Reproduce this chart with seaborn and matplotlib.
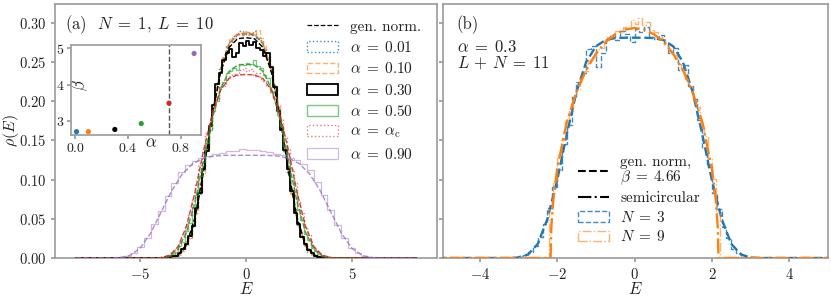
import numpy as np
import pandas as pd
import matplotlib
matplotlib.use("Agg")
import matplotlib.pyplot as plt
import seaborn as sns
from matplotlib.lines import Line2D
from matplotlib.patches import Patch

# ------------------------------------------------------------------ data
# panel (a): N = 1, L = 10 ; histograms of the spectrum for several alpha
series_a_labels = [r"$\alpha\;=\;0.01$", r"$\alpha\;=\;0.10$", r"$\alpha\;=\;0.30$",
                   r"$\alpha\;=\;0.50$", r"$\alpha\;=\;\alpha_{\rm c}$", r"$\alpha\;=\;0.90$"]

# narrow histograms: bins of width 0.16 starting at E = -4
narrow_bin_lo = -4.0
narrow_bin_w = 0.16
hist_a001 = [0.000, 0.000, 0.001, 0.001, 0.003, 0.005, 0.010, 0.016, 0.027, 0.040, 0.062, 0.082,
             0.112, 0.139, 0.165, 0.197, 0.218, 0.242, 0.255, 0.270, 0.276, 0.283, 0.287, 0.289,
             0.284,
             0.288, 0.285, 0.290, 0.281, 0.278, 0.266, 0.258, 0.239, 0.221, 0.193, 0.169, 0.136,
             0.109, 0.085, 0.059, 0.042, 0.025, 0.017, 0.008, 0.005, 0.002, 0.001, 0.000, 0.000,
             0.000]
hist_a010 = [0.000, 0.000, 0.000, 0.001, 0.002, 0.004, 0.009, 0.017, 0.025, 0.043, 0.058, 0.086,
             0.108, 0.141, 0.168, 0.193, 0.221, 0.238, 0.257, 0.267, 0.279, 0.281, 0.286, 0.284,
             0.289,
             0.285, 0.288, 0.284, 0.291, 0.280, 0.270, 0.254, 0.243, 0.217, 0.196, 0.166, 0.140,
             0.111, 0.082, 0.062, 0.040, 0.028, 0.015, 0.010, 0.004, 0.002, 0.001, 0.001, 0.000,
             0.000]
hist_a030 = [0.000, 0.001, 0.001, 0.002, 0.003, 0.006, 0.011, 0.018, 0.028, 0.041, 0.064, 0.083,
             0.113, 0.136, 0.169, 0.195, 0.222, 0.236, 0.252, 0.262, 0.266, 0.257, 0.262, 0.274,
             0.271,
             0.277, 0.272, 0.276, 0.268, 0.265, 0.258, 0.262, 0.244, 0.218, 0.188, 0.163, 0.138,
             0.114, 0.086, 0.058, 0.043, 0.027, 0.018, 0.010, 0.006, 0.003, 0.001, 0.001, 0.000,
             0.000]
hist_a050 = [0.001, 0.001, 0.003, 0.005, 0.008, 0.015, 0.021, 0.034, 0.045, 0.065, 0.080, 0.104,
             0.122, 0.147, 0.163, 0.188, 0.200, 0.218, 0.225, 0.236, 0.238, 0.242, 0.240, 0.248,
             0.246,
             0.249, 0.247, 0.253, 0.245, 0.242, 0.233, 0.229, 0.213, 0.204, 0.183, 0.169, 0.143,
             0.126, 0.100, 0.084, 0.061, 0.048, 0.031, 0.023, 0.013, 0.009, 0.005, 0.002, 0.001,
             0.001]
hist_ac = [0.001, 0.002, 0.004, 0.006, 0.012, 0.019, 0.027, 0.043, 0.055, 0.076, 0.094, 0.118,
           0.135, 0.159, 0.172, 0.193, 0.201, 0.217, 0.220, 0.229, 0.232, 0.235, 0.233, 0.240,
           0.243,
           0.238, 0.241, 0.232, 0.236, 0.228, 0.226, 0.219, 0.211, 0.206, 0.188, 0.177, 0.155,
           0.139, 0.114, 0.096, 0.073, 0.058, 0.039, 0.029, 0.017, 0.012, 0.006, 0.004, 0.002,
           0.001]
# wide histogram (alpha = 0.9): bins of width 0.32 starting at E = -6.72
wide_bin_lo = -6.72
wide_bin_w = 0.32
hist_a090 = [0.000, 0.000, 0.001, 0.003, 0.007, 0.014, 0.025, 0.043, 0.060, 0.079, 0.096, 0.110,
             0.119, 0.124, 0.128, 0.130, 0.133, 0.134, 0.136, 0.137, 0.139, 0.138, 0.138, 0.136,
             0.135, 0.133, 0.131, 0.127, 0.125, 0.120, 0.112, 0.097, 0.080, 0.061, 0.042, 0.026,
             0.013, 0.006, 0.002, 0.001, 0.000, 0.000]

# generalized-normal fits
fit_E_a = [-8.0, -4.4, -4.0, -3.6, -3.2, -2.8, -2.4, -2.0, -1.6, -1.2, -0.8, -0.4, 0.0,
           0.4, 0.8, 1.2, 1.6, 2.0, 2.4, 2.8, 3.2, 3.6, 4.0, 4.4, 8.0]
fit_a001 = [0, 0, 0.0, 0.0004, 0.0032, 0.0159, 0.0503, 0.1105, 0.1813, 0.2398, 0.2731, 0.2847, 0.286,
            0.2847, 0.2731, 0.2398, 0.1813, 0.1105, 0.0503, 0.0159, 0.0032, 0.0004, 0.0, 0, 0]
fit_a010 = [0, 0, 0.0, 0.0004, 0.0032, 0.0160, 0.0505, 0.1109, 0.1820, 0.2407, 0.2741, 0.2857, 0.287,
            0.2857, 0.2741, 0.2407, 0.1820, 0.1109, 0.0505, 0.0160, 0.0032, 0.0004, 0.0, 0, 0]
fit_a030 = [0, 0, 0.0001, 0.0006, 0.0040, 0.0175, 0.0522, 0.1112, 0.1800, 0.2365, 0.2685, 0.2797, 0.281,
            0.2797, 0.2685, 0.2365, 0.1800, 0.1112, 0.0522, 0.0175, 0.0040, 0.0006, 0.0001, 0, 0]
fit_a050 = [0, 0.0001, 0.0005, 0.0027, 0.0113, 0.033, 0.0723, 0.124, 0.1765, 0.216, 0.238, 0.246, 0.247,
            0.246, 0.238, 0.216, 0.1765, 0.124, 0.0723, 0.033, 0.0113, 0.0027, 0.0005, 0.0001, 0]
fit_ac = [0, 0.0001, 0.0005, 0.0035, 0.0145, 0.041, 0.0846, 0.137, 0.183, 0.214, 0.229, 0.2336, 0.234,
          0.2336, 0.229, 0.214, 0.183, 0.137, 0.0846, 0.041, 0.0145, 0.0035, 0.0005, 0.0001, 0]
fit_E_a090 = [-8.0, -6.5, -6.0, -5.5, -5.0, -4.5, -4.0, -3.5, -3.0, -2.5, -2.0, -1.5, -1.0, -0.5, 0.0,
              0.5, 1.0, 1.5, 2.0, 2.5, 3.0, 3.5, 4.0, 4.5, 5.0, 5.5, 6.0, 6.5, 8.0]
fit_a090 = [0, 0.0, 0.0004, 0.0030, 0.0121, 0.0314, 0.0585, 0.0858, 0.1072, 0.1206, 0.1274, 0.1301,
            0.1309, 0.131, 0.131, 0.131, 0.1309, 0.1301, 0.1274, 0.1206, 0.1072, 0.0858, 0.0585,
            0.0314, 0.0121, 0.0030, 0.0004, 0.0, 0]

# inset: fitted beta versus alpha
inset_alpha = [0.01, 0.10, 0.30, 0.50, 0.71, 0.90]
inset_beta = [2.72, 2.72, 2.78, 2.94, 3.50, 4.86]
alpha_c = 0.71

# panel (b): alpha = 0.3, L + N = 11
series_b_labels = ["gen. norm,\n" + r"$\beta\;=\;4.66$", "semicircular", r"$N\;=\;3$", r"$N\;=\;9$"]
n3_bin_lo = -3.0
n3_bin_w = 0.125
hist_n3 = [0.002, 0.004, 0.008, 0.015, 0.027, 0.043, 0.064, 0.090, 0.112, 0.146, 0.170, 0.205,
           0.225, 0.236, 0.266, 0.270, 0.244, 0.262, 0.281, 0.284, 0.278, 0.290, 0.286, 0.276,
           0.292, 0.288, 0.295, 0.282, 0.279, 0.284, 0.276, 0.262, 0.268, 0.240, 0.246, 0.219,
           0.203, 0.176, 0.140, 0.116, 0.083, 0.062, 0.039, 0.025, 0.012, 0.007, 0.003, 0.001]
n9_bin_lo = -2.2
n9_bin_w = 0.1
hist_n9 = [0.062, 0.098, 0.131, 0.150, 0.176, 0.188, 0.208, 0.216, 0.233, 0.238, 0.252, 0.255,
           0.266, 0.268, 0.278, 0.282, 0.281, 0.290, 0.287, 0.295, 0.292, 0.303,
           0.299, 0.306, 0.297, 0.301, 0.291, 0.288, 0.283, 0.279, 0.272, 0.262, 0.259, 0.247,
           0.241, 0.228, 0.220, 0.203, 0.192, 0.171, 0.156, 0.126, 0.101, 0.058]
gn_E_b = [-8.0, -3.25, -3.0, -2.75, -2.5, -2.25, -2.0, -1.75, -1.5, -1.25, -1.0, -0.75, -0.5, -0.25, 0.0,
          0.25, 0.5, 0.75, 1.0, 1.25, 1.5, 1.75, 2.0, 2.25, 2.5, 2.75, 3.0, 3.25, 8.0]
gn_rho_b = [0, 0, 0.0006, 0.0045, 0.018, 0.050, 0.099, 0.158, 0.212, 0.250, 0.270, 0.278, 0.2805, 0.281,
            0.281, 0.281, 0.2805, 0.278, 0.270, 0.250, 0.212, 0.158, 0.099, 0.050, 0.018, 0.0045,
            0.0006, 0, 0]
sc_E_b = [-8.0, -2.17, -2.15, -2.1, -2.0, -1.75, -1.5, -1.25, -1.0, -0.75, -0.5, -0.25, 0.0,
          0.25, 0.5, 0.75, 1.0, 1.25, 1.5, 1.75, 2.0, 2.1, 2.15, 2.17, 8.0]
sc_rho_b = [0, 0, 0.0397, 0.0739, 0.1138, 0.1735, 0.2120, 0.2398, 0.2604, 0.2753, 0.2855, 0.2914, 0.2934,
            0.2914, 0.2855, 0.2753, 0.2604, 0.2398, 0.2120, 0.1735, 0.1138, 0.0739, 0.0397, 0, 0]

# ------------------------------------------------------------------ style
sns.set_theme(style="ticks")
GREY = "#9a9a9a"
TXT = "#222222"
plt.rcParams.update({
    "font.family": "serif",
    "font.serif": ["cmr10", "DejaVu Serif"],
    "mathtext.fontset": "cm",
    "axes.formatter.use_mathtext": True,
    "axes.unicode_minus": True,
    "axes.edgecolor": GREY,
    "axes.linewidth": 1.2,
    "xtick.color": GREY,
    "ytick.color": GREY,
    "xtick.labelcolor": TXT,
    "ytick.labelcolor": TXT,
    "text.color": TXT,
    "axes.labelcolor": TXT,
    "xtick.major.size": 3,
    "ytick.major.size": 3,
})

fig = plt.figure(figsize=(8.31, 2.97), dpi=100)
W, H = 831.0, 297.0
ax1 = fig.add_axes([55 / W, 39 / H, 382 / W, 254 / H])
ax2 = fig.add_axes([443 / W, 39 / H, 385 / W, 254 / H])


def draw_hist(ax, heights, lo, width, color, ls, lw, alpha, z):
    n = len(heights)
    df = pd.DataFrame({"E": [lo + width * (k + 0.5) for k in range(n)],
                       "rho": list(heights)})
    nb = int(round(16.0 / width))
    edges = [float(-8.0 + width * k) for k in range(nb + 1)]
    sns.histplot(data=df, x="E", weights="rho", bins=edges, element="step", fill=False,
                 stat="count", color=color, linestyle=ls, linewidth=lw, alpha=alpha,
                 ax=ax, zorder=z)


def draw_curve(ax, xs, ys, color, ls, lw, alpha, z):
    df = pd.DataFrame({"E": xs, "rho": ys})
    sns.lineplot(data=df, x="E", y="rho", color=color, linestyle=ls, linewidth=lw,
                 alpha=alpha, ax=ax, zorder=z)


# ---------------- panel (a)
styles_a = [
    (hist_a001, narrow_bin_lo, narrow_bin_w, fit_E_a, fit_a001, "tab:blue", ":", 1.0, 0.85),
    (hist_a010, narrow_bin_lo, narrow_bin_w, fit_E_a, fit_a010, "tab:orange", "--", 1.0, 0.6),
    (hist_a030, narrow_bin_lo, narrow_bin_w, fit_E_a, fit_a030, "black", "-", 1.3, 1.0),
    (hist_a050, narrow_bin_lo, narrow_bin_w, fit_E_a, fit_a050, "tab:green", "-", 1.0, 0.6),
    (hist_ac, narrow_bin_lo, narrow_bin_w, fit_E_a, fit_ac, "tab:red", ":", 1.0, 0.6),
    (hist_a090, wide_bin_lo, wide_bin_w, fit_E_a090, fit_a090, "tab:purple", "-", 0.9, 0.45),
]
handles_a = [Line2D([], [], color="black", linestyle="--", linewidth=0.9)]
for i, (h, lo, w, fx, fy, c, ls, lw, al) in enumerate(styles_a):
    draw_hist(ax1, h, lo, w, c, ls, lw, al, 2 + i)
    draw_curve(ax1, fx, fy, c, "--", 1.0, min(1.0, al + 0.3), 2 + i)
    handles_a.append(Patch(facecolor="none", edgecolor=c, linestyle=ls, linewidth=lw, alpha=al))

ax1.set_xlim(-9, 9)
ax1.set_ylim(0, 0.324)
ax1.set_xticks([-5, 0, 5])
ax1.set_yticks([0.0, 0.05, 0.10, 0.15, 0.20, 0.25, 0.30])
ax1.tick_params(labelsize=10.5)
ax1.set_xlabel(r"$E$", fontsize=12, labelpad=-1)
ax1.set_ylabel(r"$\rho(E)$", fontsize=11.5)
ax1.yaxis.set_label_coords(-0.09, 0.5)
leg_a = ax1.legend(handles_a, ["gen. norm."] + series_a_labels, loc="upper right",
                   frameon=False, fontsize=11, handlelength=2.0, handleheight=0.7,
                   handletextpad=0.8, labelspacing=0.41, borderaxespad=0.65)
ax1.text(0.026, 0.918, r"(a)  $N\;=\;1,\; L\;=\;10$", transform=ax1.transAxes,
         fontsize=12, ha="left", va="center")

# inset
ax_in = fig.add_axes([70.7 / W, 161.7 / H, 130 / W, 90.6 / H])
ax_in.set_facecolor("white")
ax_in.axvline(alpha_c, color="#555555", linestyle="--", linewidth=1.0, zorder=1)
df_in = pd.DataFrame({"alpha": inset_alpha, "beta": inset_beta,
                      "series": [str(a) for a in inset_alpha]})
sns.scatterplot(data=df_in, x="alpha", y="beta", hue="series",
                palette=["tab:blue", "tab:orange", "black", "tab:green", "tab:red", "tab:purple"],
                s=14, edgecolor="none", legend=False, ax=ax_in, zorder=3)
ax_in.set_xlim(-0.034, 0.95)
ax_in.set_ylim(2.62, 5.1)
ax_in.set_xticks([0.0, 0.4, 0.8])
ax_in.set_yticks([3, 4, 5])
ax_in.tick_params(labelsize=10, pad=1.5)
ax_in.set_xlabel(r"$\alpha$", fontsize=12)
ax_in.xaxis.set_label_coords(0.62, 0.0)
ax_in.set_ylabel(r"$\beta$", fontsize=12)
ax_in.yaxis.set_label_coords(0.15, 0.55)

# ---------------- panel (b)
draw_hist(ax2, hist_n3, n3_bin_lo, n3_bin_w, "tab:blue", "--", 1.0, 0.85, 2)
draw_curve(ax2, gn_E_b, gn_rho_b, "tab:blue", "--", 1.7, 1.0, 3)
draw_hist(ax2, hist_n9, n9_bin_lo, n9_bin_w, "tab:orange", "-.", 1.0, 0.6, 4)
draw_curve(ax2, sc_E_b, sc_rho_b, "tab:orange", "-.", 1.7, 1.0, 5)

ax2.set_xlim(-4.95, 5.0)
ax2.set_ylim(0, 0.324)
ax2.set_xticks([-4, -2, 0, 2, 4])
ax2.set_yticks([0.0, 0.05, 0.10, 0.15, 0.20, 0.25, 0.30])
ax2.tick_params(labelsize=10.5, labelleft=False)
ax2.set_xlabel(r"$E$", fontsize=12, labelpad=-1)
ax2.set_ylabel("")
handles_b = [Line2D([], [], color="black", linestyle="--", linewidth=1.5),
             Line2D([], [], color="black", linestyle="-.", linewidth=1.5),
             Patch(facecolor="none", edgecolor="tab:blue", linestyle="--", linewidth=1.0, alpha=0.85),
             Patch(facecolor="none", edgecolor="tab:orange", linestyle="-.", linewidth=1.0, alpha=0.6)]
leg_b = ax2.legend(handles_b, series_b_labels, loc="lower left", bbox_to_anchor=(0.315, 0.0),
                   frameon=False, fontsize=11, handlelength=2.0, handleheight=0.7,
                   handletextpad=0.75, labelspacing=0.3)
leg_b.get_texts()[0].set_linespacing(0.95)
ax2.text(0.036, 0.918, "(b)", transform=ax2.transAxes, fontsize=12, ha="left", va="center")
ax2.text(0.036, 0.831, r"$\alpha\;=\;0.3$", transform=ax2.transAxes, fontsize=12, ha="left", va="center")
ax2.text(0.036, 0.768, r"$L\,+\,N\;=\;11$", transform=ax2.transAxes, fontsize=12, ha="left", va="center")

fig.savefig("out.png", dpi=100)
